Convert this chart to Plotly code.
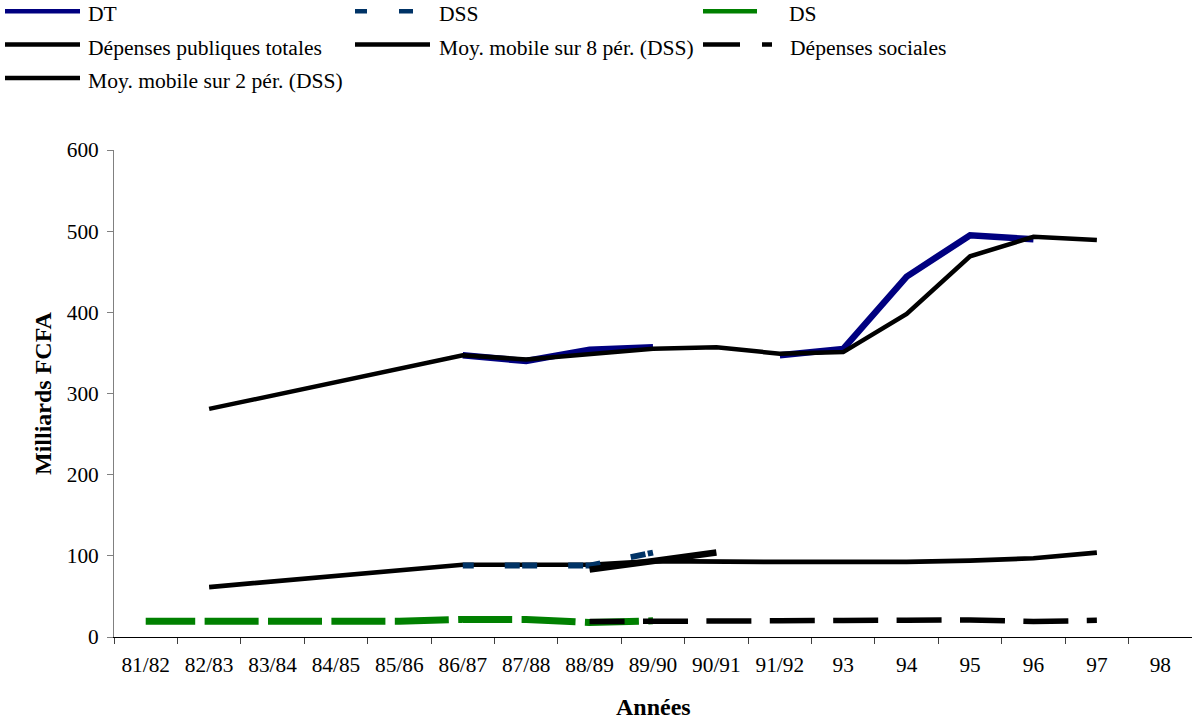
import plotly.graph_objects as go

# ---------------- data ----------------
categories = ["81/82", "82/83", "83/84", "84/85", "85/86", "86/87", "87/88", "88/89",
              "89/90", "90/91", "91/92", "93", "94", "95", "96", "97", "98"]
N = None
dt_vals = [N, N, N, N, N, 347, 340, 354, 357, N, 347, 355, 444, 495, 490, N, N]
dss_vals = [N, N, N, N, N, 88, 88, 88, 104, N, N, N, N, N, N, N, N]
ds_vals = [19.3, 19.3, 19.3, 19.3, 19.3, 21.7, 21.5, 18, 20, N, N, N, N, N, N, N, N]
dpt_vals = [N, 281, N, N, N, 347, 342, 349, 355, 357, 349, 351, 398, 469, 493, 489, N]
mm8_vals = [N, 61.5, N, N, N, 89, 89, 89, 93.5, 92.5, 92.5, 92.5, 92.5, 94, 97, 104, N]
dsoc_vals = [N, N, N, N, N, N, N, 19, 19.3, 20.5, 20.5, 20.5, 20.5, 21, 19, 20.5, N]
mm2_vals = [N, N, N, N, N, N, N, 83, 93.5, 104, N, N, N, N, N, N, N]

y_ticks = [0, 100, 200, 300, 400, 500, 600]

names = ["DT", "DSS", "DS", "Dépenses publiques totales", "Moy. mobile sur 8 pér. (DSS)",
         "Dépenses sociales", "Moy. mobile sur 2 pér. (DSS)"]

# ---------------- layout constants ----------------
W, H = 1192, 722
ML, MR, MT, MB = 114, 0, 150, 85
FONT = "Liberation Serif"
FS = 21.33
FS_LEG = 21.6
FS_TITLE = 24

NAVY = "#000080"
DSS_C = "#003366"
GREEN = "#008000"
BLACK = "#000000"


def px(x):
    return (x - ML) / (W - ML - MR)


def py(y):
    return (H - MB - y) / (H - MT - MB)


fig = go.Figure()

# drawing order (bottom -> top)
fig.add_trace(go.Scatter(x=categories, y=dt_vals, mode="lines", name=names[0],
                         line=dict(color=NAVY, width=6.5), connectgaps=False))
fig.add_trace(go.Scatter(x=categories, y=mm8_vals, mode="lines", name=names[4],
                         line=dict(color=BLACK, width=4.7), connectgaps=True))
fig.add_trace(go.Scatter(x=categories, y=dss_vals, mode="lines", name=names[1],
                         line=dict(color=DSS_C, width=6, dash="11px,31px,15px,2.4px,4px,0px"),
                         connectgaps=False))
fig.add_trace(go.Scatter(x=categories, y=ds_vals, mode="lines", name=names[2],
                         line=dict(color=GREEN, width=7, dash="49.5px,9.4px,4.5px,0px"),
                         connectgaps=False))
fig.add_trace(go.Scatter(x=categories, y=dpt_vals, mode="lines", name=names[3],
                         line=dict(color=BLACK, width=4.5), connectgaps=True))
fig.add_trace(go.Scatter(x=categories, y=dsoc_vals, mode="lines", name=names[5],
                         line=dict(color=BLACK, width=5.5, dash="35px,18.4px,10px,0px"),
                         connectgaps=False))
fig.add_trace(go.Scatter(x=categories, y=mm2_vals, mode="lines", name=names[6],
                         line=dict(color=BLACK, width=6.5), connectgaps=False))

# ---------------- manual legend ----------------
legend_items = [
    # (name, color, dash, line x0, line x1, line y, text x, text y)
    (names[0], NAVY, "solid", 5, 80, 11.3, 86, 13.5),
    (names[1], DSS_C, "12px,32px,14px,30px", 355, 430, 11.3, 437, 13.5),
    (names[2], GREEN, "54px,30px", 703, 778, 11.3, 787, 13.5),
    (names[3], BLACK, "solid", 5, 80, 44.5, 86, 47.5),
    (names[4], BLACK, "solid", 355, 430, 44.5, 437, 47.5),
    (names[5], BLACK, "37px,22px,10px,20px", 703, 778, 44.5, 788, 47.5),
    (names[6], BLACK, "solid", 5, 80, 78, 86, 80.5),
]
shapes = []
annotations = []
for name, col, dash, x0, x1, ly, tx, ty in legend_items:
    shapes.append(dict(type="line", xref="paper", yref="paper",
                       x0=px(x0), x1=px(x1), y0=py(ly), y1=py(ly),
                       line=dict(color=col, width=4.5, dash=dash)))
    annotations.append(dict(text=name, xref="paper", yref="paper",
                            x=px(tx), y=py(ty), xanchor="left", yanchor="middle",
                            showarrow=False, font=dict(family=FONT, size=FS_LEG, color="black")))

# axis titles
annotations.append(dict(text="<b>Années</b>", xref="paper", yref="paper",
                        x=px(653), y=py(707), xanchor="center", yanchor="middle",
                        showarrow=False, font=dict(family=FONT, size=FS_TITLE, color="black")))
annotations.append(dict(text="<b>Milliards FCFA</b>", xref="paper", yref="paper",
                        x=px(43), y=py(393), xanchor="center", yanchor="middle",
                        textangle=-90, showarrow=False,
                        font=dict(family=FONT, size=FS_TITLE, color="black")))

fig.update_layout(
    width=W, height=H,
    margin=dict(l=ML, r=MR, t=MT, b=MB, pad=0),
    paper_bgcolor="white", plot_bgcolor="white",
    showlegend=False,
    font=dict(family=FONT, size=FS, color="black"),
    shapes=shapes,
    annotations=annotations,
)
fig.update_xaxes(type="category", categoryorder="array", categoryarray=categories,
                 range=[-0.5, len(categories) - 0.5],
                 showgrid=False, zeroline=False,
                 showline=True, linecolor="black", linewidth=1,
                 ticks="outside", tickson="boundaries", ticklen=6, tickcolor="#404040",
                 tickfont=dict(family=FONT, size=FS, color="black"),
                 ticklabelstandoff=8)
fig.update_yaxes(range=[0, 600], tickvals=y_ticks,
                 showgrid=False, zeroline=False,
                 showline=True, linecolor="#808080", linewidth=1,
                 ticks="outside", ticklen=6, tickcolor="#808080",
                 tickfont=dict(family=FONT, size=FS, color="black"),
                 ticklabelstandoff=4)

fig.write_html("out.html")
